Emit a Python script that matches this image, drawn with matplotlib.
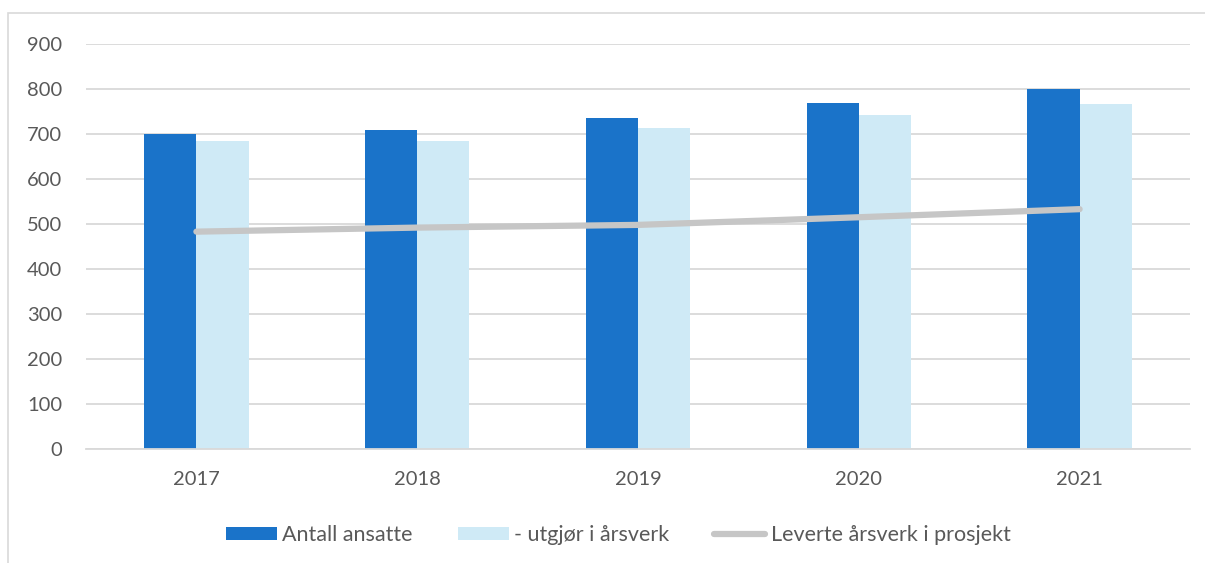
import numpy as np
import matplotlib.pyplot as plt
from matplotlib.patches import Rectangle

years = ["2017", "2018", "2019", "2020", "2021"]
antall_ansatte = [701, 710, 735, 770, 800]
utgjor_arsverk = [685, 685, 713, 743, 767]
leverte_arsverk = [483, 492, 498, 515, 533]

plt.rcParams['font.family'] = ['Lato', 'DejaVu Sans']

fig = plt.figure(figsize=(12.05, 5.63), dpi=100)
ax = fig.add_axes([86 / 1205, 1 - 449 / 563, 1104 / 1205, 405 / 563])

x = np.arange(len(years))
w = 0.236
b1 = ax.bar(x - w / 2, antall_ansatte, w, color='#1a73c9', label='Antall ansatte', zorder=2)
b2 = ax.bar(x + w / 2, utgjor_arsverk, w, color='#cfeaf6', label='- utgjør i årsverk', zorder=2)
l1, = ax.plot(x, leverte_arsverk, color='#c6c6c6', lw=4.5, solid_capstyle='round',
              label='Leverte årsverk i prosjekt', zorder=3)

ax.set_xlim(-0.5, len(years) - 0.5)
ax.set_ylim(0, 900)
ax.set_yticks(range(0, 901, 100))
ax.set_xticks(x)
ax.set_xticklabels(years)
ax.grid(axis='y', color='#d9d9d9', lw=1.3, zorder=0)
for s in ['top', 'right', 'left']:
    ax.spines[s].set_visible(False)
ax.spines['bottom'].set_color('#d9d9d9')
ax.spines['bottom'].set_linewidth(1.3)
ax.tick_params(axis='both', length=0, labelsize=14.5, colors='#595959')
ax.tick_params(axis='y', pad=17)
ax.tick_params(axis='x', pad=16)

leg = ax.legend([b1, b2, l1], [b1.get_label(), b2.get_label(), l1.get_label()],
                loc='upper center', bbox_to_anchor=(0.482, -0.14), ncol=3, frameon=False,
                fontsize=15.5, handlelength=2.37, handleheight=0.6, handletextpad=0.25,
                columnspacing=2.1)
for t in leg.get_texts():
    t.set_color('#595959')

fig.patches.append(Rectangle((8 / 1205, -0.05), 1.1, 1 - 13 / 563 + 0.05,
                             transform=fig.transFigure, fill=False,
                             edgecolor='#d9d9d9', lw=1.2))

fig.savefig('out.png', dpi=100)
